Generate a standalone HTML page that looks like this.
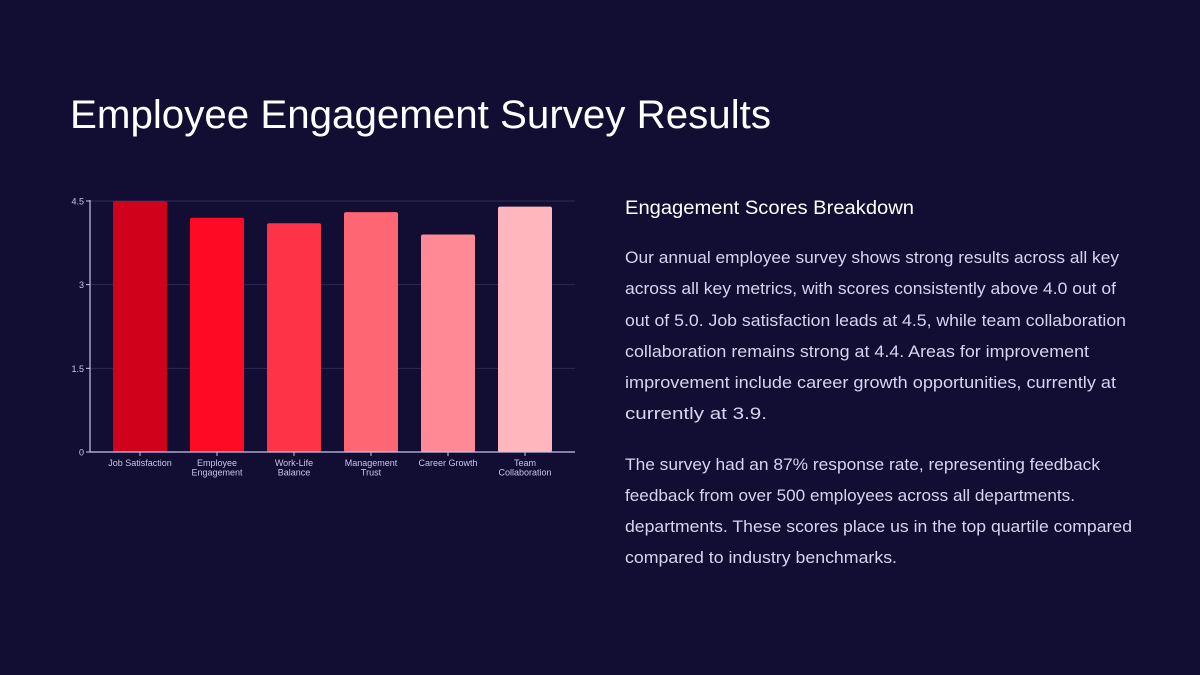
<!DOCTYPE html>
<html><head><meta charset="utf-8"><style>
html,body{margin:0;padding:0;background:#110d33;}
svg{display:block;font-family:"Liberation Sans",sans-serif;}
</style></head><body>
<svg width="1200" height="675" viewBox="0 0 1200 675">
<rect width="1200" height="675" fill="#110d33"/>
<text x="70" y="128" font-size="40" fill="#ffffff" textLength="701" lengthAdjust="spacingAndGlyphs">Employee Engagement Survey Results</text>
<g id="chart"></g>
<text x="625" y="214" font-size="19" fill="#ffffff" textLength="289" lengthAdjust="spacingAndGlyphs">Engagement Scores Breakdown</text>
<g fill="#d6d4ee" font-size="17">
<text x="625" y="263" textLength="494" lengthAdjust="spacingAndGlyphs">Our annual employee survey shows strong results across all key</text>
<text x="625" y="294" textLength="491" lengthAdjust="spacingAndGlyphs">across all key metrics, with scores consistently above 4.0 out of</text>
<text x="625" y="326" textLength="501" lengthAdjust="spacingAndGlyphs">out of 5.0. Job satisfaction leads at 4.5, while team collaboration</text>
<text x="625" y="357" textLength="464" lengthAdjust="spacingAndGlyphs">collaboration remains strong at 4.4. Areas for improvement</text>
<text x="625" y="388" textLength="491" lengthAdjust="spacingAndGlyphs">improvement include career growth opportunities, currently at</text>
<text x="625" y="419" textLength="142" lengthAdjust="spacingAndGlyphs">currently at 3.9.</text>
<text x="625" y="470" textLength="475" lengthAdjust="spacingAndGlyphs">The survey had an 87% response rate, representing feedback</text>
<text x="625" y="501" textLength="450" lengthAdjust="spacingAndGlyphs">feedback from over 500 employees across all departments.</text>
<text x="625" y="532" textLength="507" lengthAdjust="spacingAndGlyphs">departments. These scores place us in the top quartile compared</text>
<text x="625" y="563" textLength="272" lengthAdjust="spacingAndGlyphs">compared to industry benchmarks.</text>
</g>
</svg>
<script>
const categories = [["Job Satisfaction"],["Employee","Engagement"],["Work-Life","Balance"],["Management","Trust"],["Career Growth"],["Team","Collaboration"]];
const scores = [4.5, 4.2, 4.1, 4.3, 3.9, 4.4];
const tickValues = [0, 1.5, 3, 4.5];
const tickLabels = ["0", "1.5", "3", "4.5"];
const barColors = ["#d0021b","#ff0a24","#ff3347","#ff6673","#ff8a96","#ffb6bd"];

const NS = "http://www.w3.org/2000/svg";
const g = document.getElementById("chart");
const y0 = 452, yTop = 201, yMax = 4.5;
const xLeft = 101.5, band = 77, barW = 54;
const yScale = v => y0 - (v / yMax) * (y0 - yTop);
const xScale = i => xLeft + i * band + band / 2;
function mk(tag, attrs) { const e = document.createElementNS(NS, tag); for (const k in attrs) e.setAttribute(k, attrs[k]); g.appendChild(e); return e; }

tickValues.forEach((v, i) => {
  const y = yScale(v);
  if (v > 0) {
    const gl = mk("line", {x1: 90, x2: 575, y1: y, y2: y, stroke: "#2e2a55", "stroke-width": 1});
    
    
  }
  const tk = mk("line", {x1: 86, x2: 90, y1: y, y2: y, stroke: "#c8c6e6", "stroke-width": 1});
  
  
  const t = mk("text", {x: 84, y: y + 3.5, "font-size": 9, fill: "#c8c6e6", "text-anchor": "end"});
  t.textContent = tickLabels[i];
  
  
});

scores.forEach((v, i) => {
  const cx = xScale(i);
  const r = mk("rect", {x: cx - barW / 2, y: yScale(v), width: barW, height: y0 - yScale(v), fill: barColors[i], rx: 2});
  
  
  const tk = mk("line", {x1: cx, x2: cx, y1: y0, y2: y0 + 4, stroke: "#c8c6e6", "stroke-width": 1});
  
  
  categories[i].forEach((ln, j) => {
    const t = mk("text", {x: cx, y: y0 + 14 + j * 9.5, "font-size": 9, fill: "#c8c6e6", "text-anchor": "middle"});
    t.textContent = ln;
    
    
  });
});

const ya = mk("line", {x1: 90, x2: 90, y1: yTop - 1, y2: y0, stroke: "#c8c6e6", "stroke-width": 1.2});


const xa = mk("line", {x1: 90, x2: 575, y1: y0, y2: y0, stroke: "#c8c6e6", "stroke-width": 1.2});


</script>
</body></html>
